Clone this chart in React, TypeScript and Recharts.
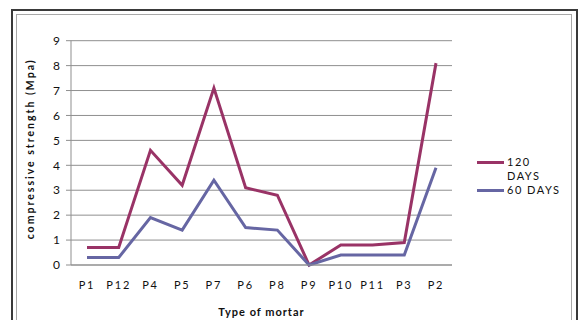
import React from 'react';
import { LineChart, Line, XAxis, YAxis, CartesianGrid, Legend } from 'recharts';

const mortars = ['P1', 'P12', 'P4', 'P5', 'P7', 'P6', 'P8', 'P9', 'P10', 'P11', 'P3', 'P2'];
const strength120 = [0.7, 0.7, 4.6, 3.2, 7.1, 3.1, 2.8, 0, 0.8, 0.8, 0.9, 8.1];
const strength60 = [0.3, 0.3, 1.9, 1.4, 3.4, 1.5, 1.4, 0, 0.4, 0.4, 0.4, 3.9];
const yTicks = [0, 1, 2, 3, 4, 5, 6, 7, 8, 9];

const data = mortars.map((name, i) => ({
  name,
  d120: strength120[i],
  d60: strength60[i],
}));

const FONT = 'Lato, "Open Sans", sans-serif';
const GRID = '#8f8f8f';

const LegendBox = ({ payload }: any) => (
  <div style={{ fontFamily: FONT, fontSize: 11, letterSpacing: 1.5, color: '#111' }}>
    {payload.map((entry: any, i: number) => (
      <div key={i} style={{ display: 'flex', alignItems: 'flex-start', lineHeight: '14px' }}>
        <div style={{ width: 27, height: 3, background: entry.color, marginTop: 6, marginRight: 3 }} />
        <div style={{ width: 54 }}>{entry.value}</div>
      </div>
    ))}
  </div>
);

export default function App() {
  return (
    <div style={{ position: 'absolute', left: 0, top: 0, width: 581, height: 320, overflow: 'hidden', background: '#fff' }}>
      {/* double frame around the chart */}
      <div style={{ position: 'absolute', left: 11, top: 9, width: 563, height: 340, border: '2px solid #3a3a3a' }} />
      <div style={{ position: 'absolute', left: 16, top: 14, width: 554, height: 330, border: '1.5px solid #a8a8a8' }} />
      <div style={{ position: 'absolute', left: 0, top: 0 }}>
        <LineChart width={581} height={320} data={data} margin={{ top: 40.7, right: 129, bottom: 0, left: 16 }}>
          <CartesianGrid vertical={false} stroke={GRID} strokeWidth={1} />
          <XAxis
            dataKey="name"
            interval={0}
            height={55}
            padding={{ left: 16, right: 16 }}
            tickLine={false}
            axisLine={{ stroke: GRID }}
            tickMargin={10}
            tick={{ fontFamily: FONT, fontSize: 11, letterSpacing: 1.8, fill: '#111' }}
            label={{
              value: 'Type of mortar',
              position: 'insideBottom',
              offset: 4,
              style: { fontFamily: FONT, fontSize: 11, fontWeight: 700, letterSpacing: 1, fill: '#111' },
            }}
          />
          <YAxis
            width={55}
            domain={[0, 9]}
            ticks={yTicks}
            interval={0}
            tickSize={5}
            tickMargin={6}
            tickLine={{ stroke: GRID }}
            axisLine={{ stroke: GRID }}
            tick={{ fontFamily: FONT, fontSize: 12, fill: '#111' }}
            label={{
              value: 'compressive strength (Mpa)',
              angle: -90,
              position: 'insideLeft',
              dx: 9,
              dy: -4,
              style: { textAnchor: 'middle', fontFamily: FONT, fontSize: 10.5, fontWeight: 700, letterSpacing: 2, fill: '#111' },
            }}
          />
          <Legend
            layout="vertical"
            align="center"
            verticalAlign="middle"
            content={<LegendBox />}
            wrapperStyle={{ left: 477, top: 155, width: 100 }}
          />
          <Line name="120 DAYS" dataKey="d120" stroke="#993366" strokeWidth={3} dot={false} isAnimationActive={false} />
          <Line name="60 DAYS" dataKey="d60" stroke="#6666a3" strokeWidth={3} dot={false} isAnimationActive={false} />
        </LineChart>
      </div>
    </div>
  );
}
